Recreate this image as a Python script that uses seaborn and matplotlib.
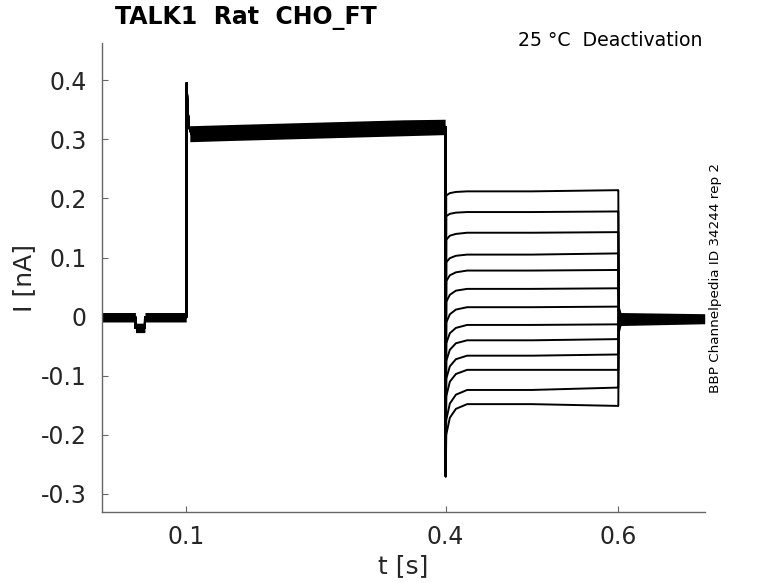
import numpy as np
import pandas as pd
import matplotlib
matplotlib.use("Agg")
import matplotlib.pyplot as plt
import seaborn as sns

# ---------------- data ----------------
# common part of every sweep (holding + pre-pulse), time in s, current in nA
t_common = [0.002, 0.041, 0.0411, 0.052, 0.0521, 0.0998,
            0.1, 0.1003, 0.1015, 0.103, 0.106, 0.15, 0.25, 0.35, 0.3995]
i_common = [-0.001, -0.001, -0.019, -0.019, -0.001, -0.001,
            0.0, 0.395, 0.35, 0.322, 0.309, 0.311, 0.315, 0.319, 0.321]

# test-pulse part: sample times and one row of values per sweep
t_test = [0.4, 0.4003, 0.4008, 0.405, 0.412, 0.425, 0.5, 0.5995,
          0.6, 0.6005, 0.602, 0.605, 0.7]
spike_test = -0.27
start_test = [0.205, 0.170, 0.130, 0.092, 0.060, 0.025, -0.010, -0.045,
              -0.075, -0.105, -0.135, -0.175, -0.200]
i405 = [0.209, 0.174, 0.137, 0.099, 0.070, 0.037, 0.004, -0.028,
        -0.056, -0.084, -0.110, -0.147, -0.171]
i412 = [0.211, 0.176, 0.140, 0.103, 0.075, 0.044, 0.012, -0.019,
        -0.045, -0.072, -0.097, -0.132, -0.156]
level_test = [0.212, 0.177, 0.142, 0.105, 0.078, 0.047, 0.016, -0.014,
              -0.040, -0.066, -0.090, -0.124, -0.148]
end_test = [0.214, 0.178, 0.143, 0.107, 0.079, 0.048, 0.017, -0.013,
            -0.038, -0.064, -0.090, -0.120, -0.151]
tail_vals = [0.012, -0.012, -0.004, -0.004]

# noise envelopes (min / max of the overlaid sweeps)
t_env_base = [0.002, 0.041, 0.0411, 0.052, 0.0521, 0.0998]
lo_env_base = [-0.009, -0.009, -0.027, -0.027, -0.009, -0.009]
hi_env_base = [0.007, 0.007, -0.011, -0.011, 0.007, 0.007]
t_env_hold = [0.104, 0.15, 0.25, 0.35, 0.3995]
lo_env_hold = [0.296, 0.298, 0.302, 0.306, 0.308]
hi_env_hold = [0.323, 0.325, 0.329, 0.333, 0.334]
t_env_tail = [0.6005, 0.603, 0.7]
lo_env_tail = [-0.03, -0.015, -0.012]
hi_env_tail = [0.02, 0.007, 0.005]

# ---------------- build long-form table ----------------
rows = []
for k in range(len(level_test)):
    ts = list(t_common) + list(t_test)
    vals = list(i_common) + [i_common[-1], spike_test, start_test[k], i405[k], i412[k],
                             level_test[k], level_test[k], end_test[k], end_test[k]] + tail_vals
    for t, v in zip(ts, vals):
        rows.append({"t": t, "I": v, "sweep": k})
df = pd.DataFrame(rows)

# ---------------- figure ----------------
sns.set_theme(style="white")
plt.rcParams["font.family"] = ["DejaVu Sans"]

fig = plt.figure(figsize=(7.78, 5.83), dpi=100)
ax = fig.add_axes([101.7 / 778, 1 - 512.3 / 583, (704.7 - 101.7) / 778, (512.3 - 43) / 583])

ax.fill_between(t_env_base, lo_env_base, hi_env_base, color="black", lw=0)
ax.fill_between(t_env_hold, lo_env_hold, hi_env_hold, color="black", lw=0)
ax.fill_between(t_env_tail, lo_env_tail, hi_env_tail, color="black", lw=0)

sns.lineplot(data=df, x="t", y="I", units="sweep", estimator=None, sort=False,
             color="black", linewidth=1.4, ax=ax, legend=False)

ax.set_xlim(0.002, 0.7)
ax.set_ylim(-0.331, 0.463)
ax.set_xticks([0.1, 0.4, 0.6])
ax.set_xticklabels(["0.1", "0.4", "0.6"])
ax.set_yticks([-0.3, -0.2, -0.1, 0, 0.1, 0.2, 0.3, 0.4])
ax.set_yticklabels(["-0.3", "-0.2", "-0.1", "0", "0.1", "0.2", "0.3", "0.4"])

for s in ["top", "right"]:
    ax.spines[s].set_visible(False)
for s in ["left", "bottom"]:
    ax.spines[s].set_color("#666666")
    ax.spines[s].set_linewidth(1.0)

ax.tick_params(axis="both", which="major", bottom=True, left=True, top=False, right=False,
               direction="in", length=4.5, width=0.8, color="#666666",
               labelsize=17, labelcolor="#262626")
ax.tick_params(axis="y", pad=11)
ax.tick_params(axis="x", pad=9)

ax.set_xlabel("t [s]", fontsize=18, color="#262626", labelpad=4)
ax.set_ylabel("I [nA]", fontsize=18, color="#262626", labelpad=3)

fig.text(115 / 778, 1 - 18 / 583, "TALK1  Rat  CHO_FT", fontsize=17, fontweight="bold",
         ha="left", va="center", color="black")
fig.text(703 / 778, 1 - 41 / 583, "25 °C  Deactivation", fontsize=13.6,
         ha="right", va="center", color="black")
fig.text(716 / 778, 1 - 278 / 583, "BBP Channelpedia ID 34244 rep 2", fontsize=9.7,
         rotation=90, ha="center", va="center", color="black")

fig.savefig("out.png", dpi=100)
